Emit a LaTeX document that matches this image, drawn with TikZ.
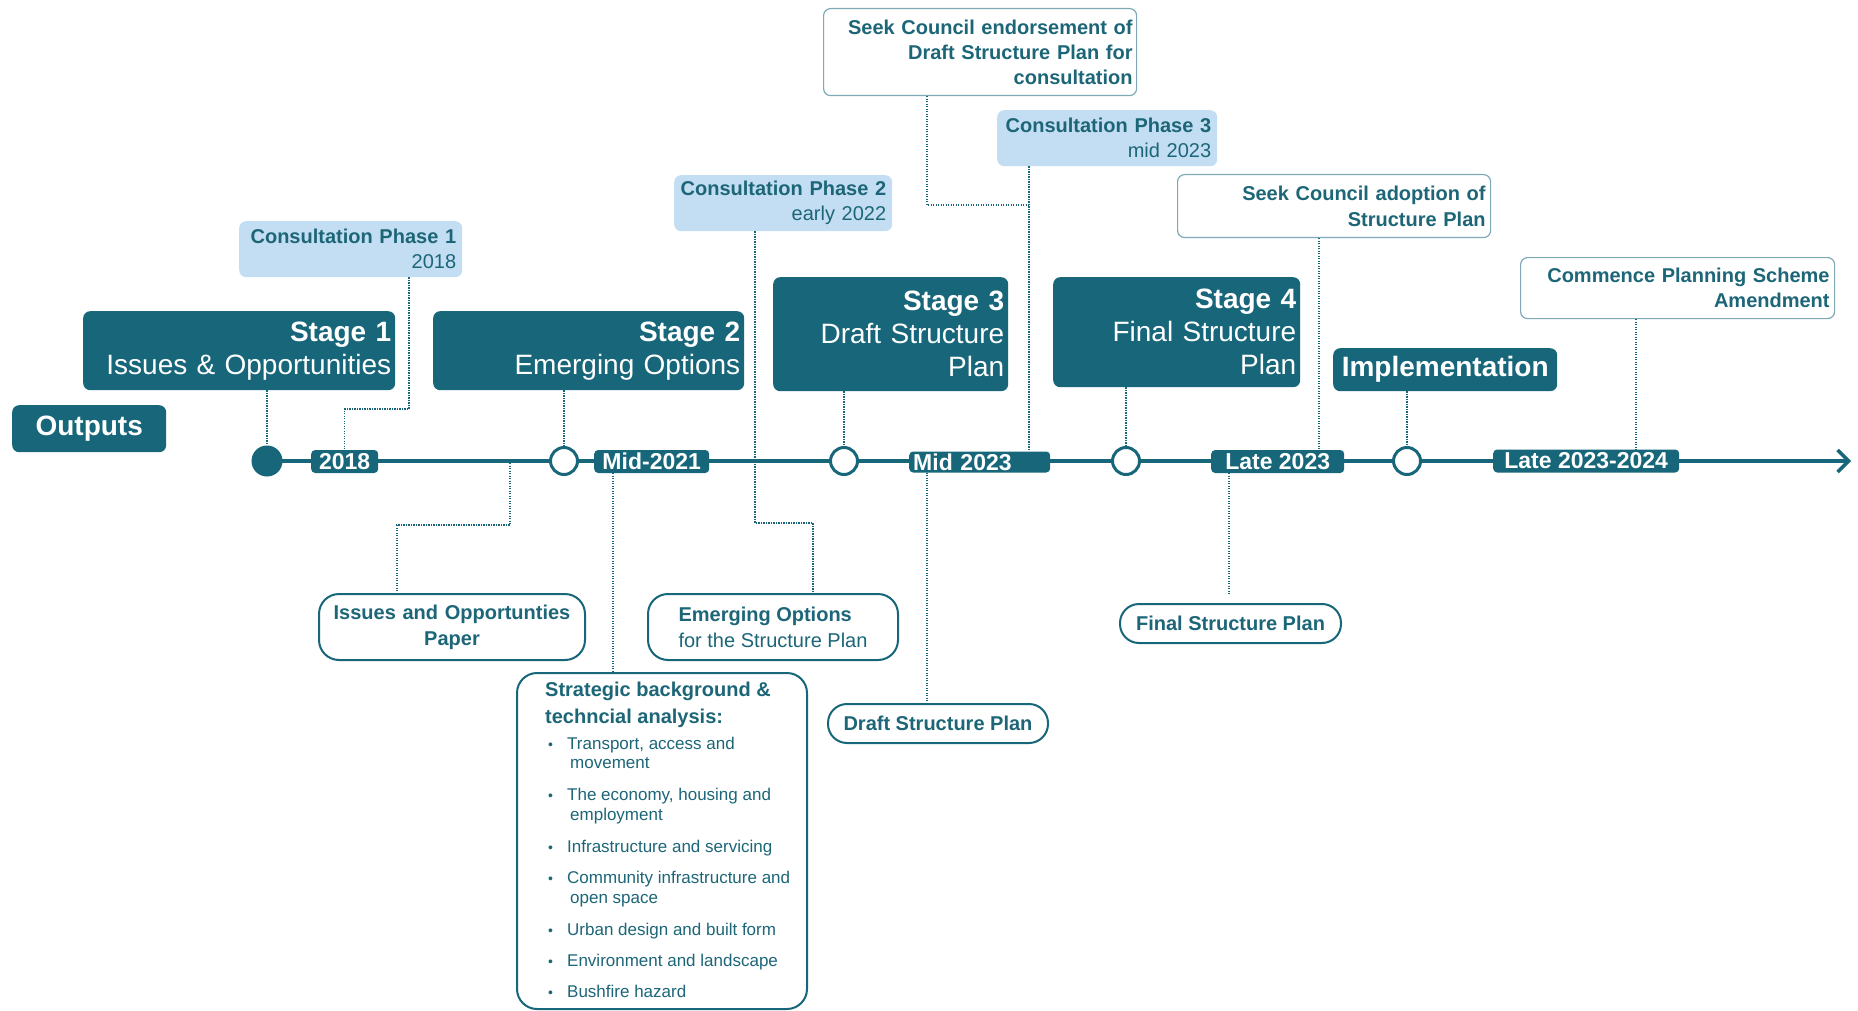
\documentclass[tikz,border=0pt]{standalone}
\usepackage{fontspec}
\setmainfont{Liberation Sans}
\usetikzlibrary{arrows.meta}
\definecolor{tl}{HTML}{17667A}
\definecolor{tltext}{HTML}{1C6678}
\definecolor{lb}{HTML}{C3DDF2}
\definecolor{wb}{HTML}{7FA9B7}
\newcommand{\fsz}[2]{\fontsize{#1}{#2}\selectfont}
\begin{document}
\begin{tikzpicture}[x=1pt,y=-1pt,
  box/.style={rounded corners=7pt, inner ysep=0pt, inner xsep=4pt, anchor=north west},
  stagebox/.style={box, fill=tl, text=white, align=right, font=\fsz{28}{33}},
  darkbox/.style={box, fill=tl, text=white, align=center, font=\fsz{28}{32}\bfseries},
  datebox/.style={rounded corners=4pt, fill=tl, text=white, inner ysep=0pt, inner xsep=0pt, minimum height=23pt, anchor=west, align=center, font=\fsz{23}{26}\bfseries},
  consbox/.style={box, fill=lb, text=tltext, align=right, inner xsep=6pt, font=\fsz{20}{25}},
  whitebox/.style={box, fill=white, draw=wb, line width=1.2pt, text=tltext, align=right, inner xsep=5pt, font=\fsz{20}{25}\bfseries},
  pill/.style={box, rounded corners=20pt, fill=white, draw=tl, line width=2pt, text=tltext, align=center, font=\fsz{20}{26}\bfseries},
  opendot/.style={circle, draw=tl, fill=white, line width=3pt, minimum size=27pt, inner sep=0pt},
  conn/.style={draw=tl, line width=1.3pt, dash pattern=on 1.2pt off 1.3pt},
  bul/.style={anchor=base west, inner sep=0pt, text=tltext, font=\fsz{17}{20}},
  bulhead/.style={anchor=base west, inner sep=0pt, text=tltext, font=\fsz{20}{26}\bfseries},
]
\useasboundingbox (0,0) rectangle (1858,1011);

% timeline
\coordinate (tlend) at (1851,461);
\node[circle, fill=tl, minimum size=31pt, inner sep=0pt] (c0) at (267,461) {};
\draw[tl, line width=3.5pt, -{Straight Barb[length=11pt,width=22pt]}] (c0.center) -- (tlend);
\node[opendot] (c1) at (564,461) {};
\node[opendot] (c2) at (844,461) {};
\node[opendot] (c3) at (1126,461) {};
\node[opendot] (c4) at (1407,461) {};

% date labels
\node[datebox, minimum width=67pt] (d2018) at (311,461.5) {2018};
\node[datebox, minimum width=115pt] (d2021) at (594,461.5) {Mid-2021};
\node[datebox, minimum width=141pt, minimum height=21pt, text width=133pt, inner xsep=4pt, align=left] (d2023) at (909,462) {Mid 2023};
\node[datebox, minimum width=133pt] (dl23) at (1211,461.5) {Late 2023};
\node[datebox, minimum width=186pt] (d2024) at (1493,461) {Late 2023-2024};

% stage boxes
\node[darkbox, minimum width=154pt, minimum height=47pt] (out) at (12,405) {Outputs};
\node[stagebox, minimum width=312pt, minimum height=79pt, text width=304pt] (st1) at (83,311) {\textbf{Stage 1}\\Issues \& Opportunities};
\node[stagebox, minimum width=311pt, minimum height=79pt, text width=303pt] (st2) at (433,311) {\textbf{Stage 2}\\Emerging Options};
\node[stagebox, minimum width=235pt, minimum height=114pt, text width=227pt] (st3) at (773,277) {\textbf{Stage 3}\\Draft Structure\\Plan};
\node[stagebox, minimum width=247pt, minimum height=110pt, text width=239pt] (st4) at (1053,277) {\textbf{Stage 4}\\Final Structure\\Plan};
\node[darkbox, minimum width=224pt, minimum height=43pt] (impl) at (1333,348) {Implementation};

% consultation boxes
\node[consbox, minimum width=223pt, minimum height=56pt, text width=211pt] (cp1) at (239,221) {\textbf{Consultation Phase 1}\\2018};
\node[consbox, minimum width=218pt, minimum height=56pt, text width=206pt] (cp2) at (674,175) {\textbf{Consultation Phase 2}\\early 2022};
\node[consbox, minimum width=220pt, minimum height=56pt, text width=208pt] (cp3) at (997,110) {\textbf{Consultation Phase 3}\\mid 2023};

% white boxes
\node[whitebox, minimum width=313pt, minimum height=87pt, text width=305pt, inner xsep=4pt] (se) at (823,8) {Seek Council endorsement of\\Draft Structure Plan for\\consultation};
\node[whitebox, minimum width=313pt, minimum height=63pt, text width=303pt, font=\fsz{20}{26}\bfseries] (sa) at (1177,174) {Seek Council adoption of\\Structure Plan};
\node[whitebox, minimum width=314pt, minimum height=61pt, text width=304pt] (cps) at (1520,257) {Commence Planning Scheme\\Amendment};

% output boxes
\node[pill, minimum width=266pt, minimum height=66pt, text width=256pt, inner xsep=5pt] (iop) at (318,593) {Issues and Opportunties\\Paper};
\node[pill, minimum width=250pt, minimum height=66pt, align=left] (eo) at (647,593) {Emerging Options\\\mdseries for the Structure Plan};
\node[pill, rounded corners=19pt, minimum width=220pt, minimum height=39pt] (dsp) at (827,703) {Draft Structure Plan};
\node[pill, rounded corners=19pt, minimum width=221pt, minimum height=39pt] (fsp) at (1119,603) {Final Structure Plan};
\node[pill, minimum width=290pt, minimum height=336pt] (sba) at (516,672) {};

% strategic box contents
\node[bulhead] (h1) at (545,696) {Strategic background \&};
\node[bulhead] (h2) at (545,723) {techncial analysis:};
\foreach \y [count=\i] in {749,800,852,883,935,966,997}
  \node[bul, font=\fsz{14}{16}] (b\i) at (548,\y) {•};
\node[bul] (t1) at (567,749) {Transport, access and};
\node[bul] (t1b) at (570,768) {movement};
\node[bul] (t2) at (567,800) {The economy, housing and};
\node[bul] (t2b) at (570,820) {employment};
\node[bul] (t3) at (567,852) {Infrastructure and servicing};
\node[bul] (t4) at (567,883) {Community infrastructure and};
\node[bul] (t4b) at (570,903) {open space};
\node[bul] (t5) at (567,935) {Urban design and built form};
\node[bul] (t6) at (567,966) {Environment and landscape};
\node[bul] (t7) at (567,997) {Bushfire hazard};

% connectors
\draw[conn] (c0 |- st1.south) -- (c0.north);
\draw[conn] (c1 |- st2.south) -- (c1.north);
\draw[conn] (c2 |- st3.south) -- (c2.north);
\draw[conn] (c3 |- st4.south) -- (c3.north);
\draw[conn] (c4 |- impl.south) -- (c4.north);

\coordinate (k1) at (409,409);
\draw[conn] (k1 |- cp1.south) -- (k1) -| (d2018.north);

\coordinate (k2a) at (510,463);
\coordinate (k2b) at (397,525);
\draw[conn] (k2a) |- (k2b) -- (k2b |- iop.north);

\coordinate (k3) at (613,0);
\draw[conn] (k3 |- d2021.south) -- (k3 |- sba.north);

\coordinate (k4) at (755,523);
\coordinate (k5) at (813,523);
\draw[conn] (k4 |- cp2.south) -- (k4) -- (k5) -- (k5 |- eo.north);

\coordinate (k6) at (927,205);
\coordinate (k7) at (1029,205);
\draw[conn] (k6 |- se.south) -- (k6) -- (k7);
\draw[conn] (k7 |- cp3.south) -- (k7 |- d2023.north);
\draw[conn] (k6 |- d2023.south) -- (k6 |- dsp.north);

\coordinate (k8) at (1319,0);
\draw[conn] (k8 |- sa.south) -- (k8 |- dl23.north);

\coordinate (k9) at (1229,594);
\draw[conn] (k9 |- dl23.south) -- (k9);

\coordinate (k10) at (1636,0);
\draw[conn] (k10 |- cps.south) -- (k10 |- d2024.north);
\end{tikzpicture}
\end{document}
